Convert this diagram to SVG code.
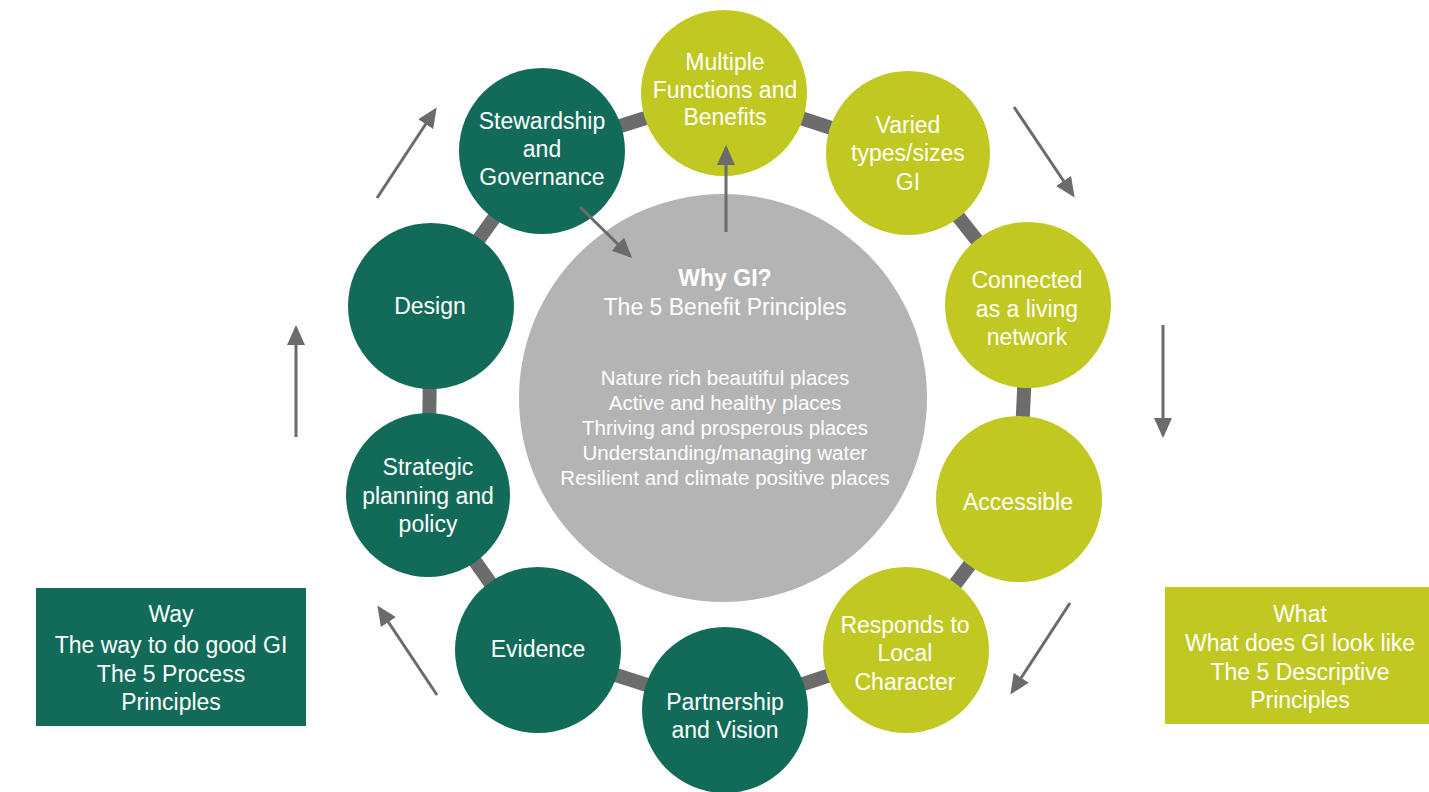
<svg xmlns="http://www.w3.org/2000/svg" width="1429" height="792" viewBox="0 0 1429 792">
  <style>
    .dark { fill: #126b58; }
    .lime { fill: #c2c822; }
    .hub { fill: #b4b4b4; }
    .lbl { font-family: "Liberation Sans", Arial, sans-serif; font-size: 23px; fill: #ffffff; text-anchor: middle; }
    .lst { font-family: "Liberation Sans", Arial, sans-serif; font-size: 20.5px; fill: #ffffff; text-anchor: middle; }
    .ring { fill: none; stroke: #6c6c6c; stroke-width: 14; stroke-linejoin: round; }
    .arr { fill: none; stroke: #6b6b6b; stroke-width: 3; marker-end: url(#head); }
  </style>
  <defs>
    <marker id="head" viewBox="0 0 20 18" refX="17" refY="9" markerWidth="20" markerHeight="18" markerUnits="userSpaceOnUse" orient="auto">
      <path d="M0,0 L20,9 L0,18 Z" fill="#6b6b6b"/>
    </marker>
  </defs>
  <rect width="1429" height="792" fill="#ffffff"/>

  <!-- ring links between the principles -->
  <g id="connectors">
    <polygon class="ring" points="724,93 908,153 1028,305 1019,499 906,650 725,710 538,650 428,495 431,306 542,151"/>
  </g>

  <!-- central hub -->
  <g id="hub">
    <circle class="hub" cx="723" cy="398" r="204"/>
    <text class="lbl" x="725" y="286" font-weight="bold">Why GI?</text>
    <text class="lbl" x="725" y="315">The 5 Benefit Principles</text>
    <text class="lst" x="725" y="385">Nature rich beautiful places</text>
    <text class="lst" x="725" y="410">Active and healthy places</text>
    <text class="lst" x="725" y="435">Thriving and prosperous places</text>
    <text class="lst" x="725" y="460">Understanding/managing water</text>
    <text class="lst" x="725" y="485">Resilient and climate positive places</text>
  </g>

  <!-- descriptive principles -->
  <g id="multiple">
    <circle class="lime" cx="724" cy="93" r="83"/>
    <text class="lbl" x="725" y="70">Multiple</text>
    <text class="lbl" x="725" y="98">Functions and</text>
    <text class="lbl" x="725" y="125">Benefits</text>
  </g>
  <g id="varied">
    <circle class="lime" cx="908" cy="153" r="82"/>
    <text class="lbl" x="908" y="133">Varied</text>
    <text class="lbl" x="908" y="161">types/sizes</text>
    <text class="lbl" x="908" y="190">GI</text>
  </g>
  <g id="connected">
    <circle class="lime" cx="1028" cy="305" r="83"/>
    <text class="lbl" x="1027" y="288">Connected</text>
    <text class="lbl" x="1027" y="317">as a living</text>
    <text class="lbl" x="1027" y="345">network</text>
  </g>
  <g id="accessible">
    <circle class="lime" cx="1019" cy="499" r="83"/>
    <text class="lbl" x="1018" y="510">Accessible</text>
  </g>
  <g id="responds">
    <circle class="lime" cx="906" cy="650" r="83"/>
    <text class="lbl" x="905" y="633">Responds to</text>
    <text class="lbl" x="905" y="661">Local</text>
    <text class="lbl" x="905" y="690">Character</text>
  </g>

  <!-- process principles -->
  <g id="partnership">
    <circle class="dark" cx="725" cy="710" r="83"/>
    <text class="lbl" x="725" y="710">Partnership</text>
    <text class="lbl" x="725" y="738">and Vision</text>
  </g>
  <g id="evidence">
    <circle class="dark" cx="538" cy="650" r="83"/>
    <text class="lbl" x="538" y="657">Evidence</text>
  </g>
  <g id="strategic">
    <circle class="dark" cx="428" cy="495" r="82"/>
    <text class="lbl" x="428" y="475">Strategic</text>
    <text class="lbl" x="428" y="504">planning and</text>
    <text class="lbl" x="428" y="532">policy</text>
  </g>
  <g id="design">
    <circle class="dark" cx="431" cy="306" r="83"/>
    <text class="lbl" x="430" y="314">Design</text>
  </g>
  <g id="stewardship">
    <circle class="dark" cx="542" cy="151" r="83"/>
    <text class="lbl" x="542" y="129">Stewardship</text>
    <text class="lbl" x="542" y="157">and</text>
    <text class="lbl" x="542" y="185">Governance</text>
  </g>

  <!-- direction arrows -->
  <g id="arrows">
    <line class="arr" x1="377" y1="198" x2="435" y2="110"/>
    <line class="arr" x1="580" y1="207" x2="630" y2="256"/>
    <line class="arr" x1="726" y1="232" x2="726" y2="148"/>
    <line class="arr" x1="1014" y1="107" x2="1073" y2="195"/>
    <line class="arr" x1="1163" y1="325" x2="1163" y2="435"/>
    <line class="arr" x1="1070" y1="603" x2="1012" y2="692"/>
    <line class="arr" x1="437" y1="695" x2="379" y2="608"/>
    <line class="arr" x1="296" y1="437" x2="296" y2="328"/>
  </g>

  <!-- legend boxes -->
  <g id="way-box">
    <rect class="dark" x="36" y="588" width="270" height="138"/>
    <text class="lbl" x="171" y="622">Way</text>
    <text class="lbl" x="171" y="653">The way to do good GI</text>
    <text class="lbl" x="171" y="682">The 5 Process</text>
    <text class="lbl" x="171" y="710">Principles</text>
  </g>
  <g id="what-box">
    <rect class="lime" x="1165" y="587" width="264" height="137"/>
    <text class="lbl" x="1300" y="622">What</text>
    <text class="lbl" x="1300" y="651">What does GI look like</text>
    <text class="lbl" x="1300" y="680">The 5 Descriptive</text>
    <text class="lbl" x="1300" y="708">Principles</text>
  </g>
</svg>
